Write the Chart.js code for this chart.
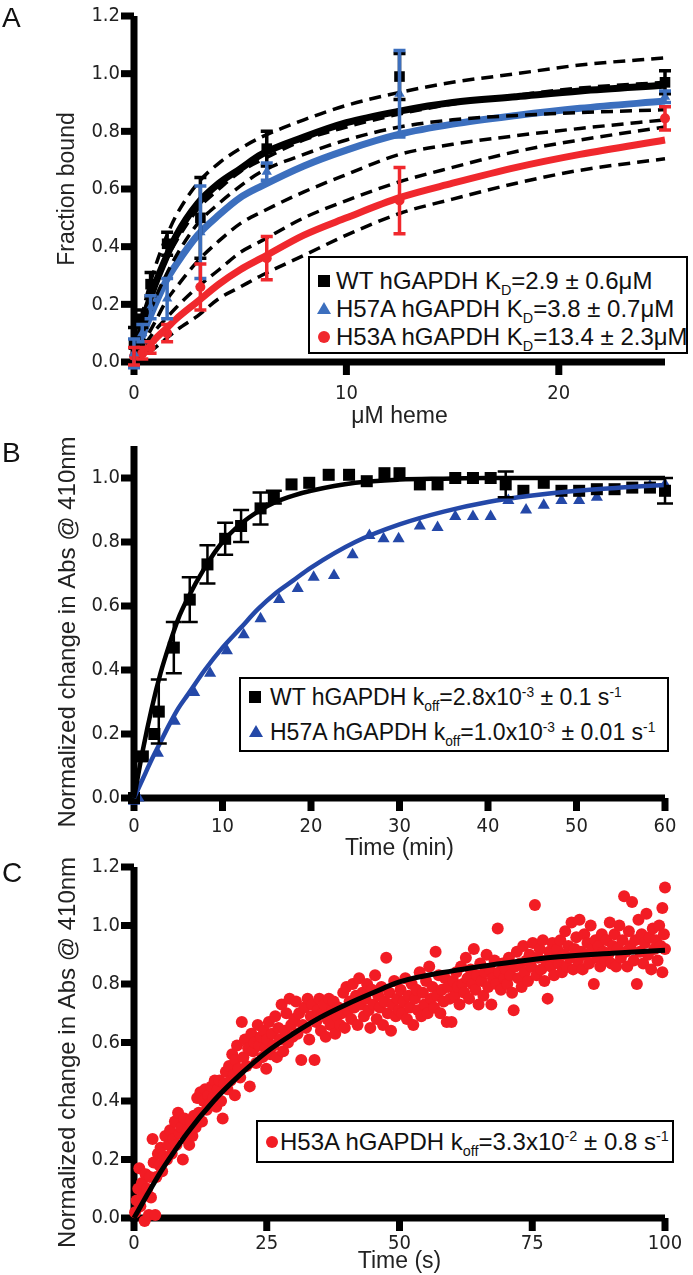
<!DOCTYPE html>
<html>
<head>
<meta charset="utf-8">
<script src="https://cdn.jsdelivr.net/npm/chart.js@4.4.1/dist/chart.umd.min.js"></script>
<style>
  html, body { margin: 0; padding: 0; background: #fff; }
  #page { position: relative; width: 693px; height: 1275px; overflow: hidden; }
  canvas { position: absolute; left: 0; }
  .letter { position: absolute; left: 2px; font: 28px 'Liberation Sans', Arial, sans-serif; line-height: 28px; color: #111; }
  .legend { position: absolute; border: 2px solid #000; box-sizing: border-box; background: #fff;
            font-family: 'Liberation Sans', Arial, sans-serif; color: #111; }
  .row { position: absolute; white-space: nowrap; line-height: 28px; height: 28px; }
  .mk { position: absolute; }
  .sq { width: 12px; height: 12px; background: #000; }
  .tri { width: 0; height: 0; border-left: 7px solid transparent; border-right: 7px solid transparent; }
  .dot { width: 12px; height: 12px; border-radius: 50%; }
  sub, sup { font-size: 0.6em; line-height: 0; }
  sub { vertical-align: -0.4em; }
  sup { vertical-align: 0.6em; }
</style>
</head>
<body>
<div id="page">
  <canvas id="chartA" width="693" height="430" style="top:0px"></canvas>
  <canvas id="chartB" width="693" height="437" style="top:425px"></canvas>
  <canvas id="chartC" width="693" height="425" style="top:850px"></canvas>

  <div class="letter" style="top:4px">A</div>
  <div class="letter" style="top:439px">B</div>
  <div class="letter" style="top:859px">C</div>

  <div class="legend" style="left:308px; top:256px; width:380px; height:98px; font-size:24px">
    <div class="row" style="left:0; top:9px">
      <div class="mk sq" style="left:8px; top:8px"></div>
      <span style="position:absolute; left:26px">WT hGAPDH K<sub>D</sub>=2.9 ± 0.6μM</span>
    </div>
    <div class="row" style="left:0; top:37px">
      <div class="mk tri" style="left:7px; top:7px; border-bottom:12px solid #3c6fbe"></div>
      <span style="position:absolute; left:26px">H57A hGAPDH K<sub>D</sub>=3.8 ± 0.7μM</span>
    </div>
    <div class="row" style="left:0; top:65px">
      <div class="mk dot" style="left:8px; top:8px; background:#f0282d"></div>
      <span style="position:absolute; left:26px">H53A hGAPDH K<sub>D</sub>=13.4 ± 2.3μM</span>
    </div>
  </div>

  <div class="legend" style="left:239px; top:677px; width:430px; height:75px; font-size:23px">
    <div class="row" style="left:0; top:4px">
      <div class="mk sq" style="left:8px; top:8px"></div>
      <span style="position:absolute; left:29px">WT hGAPDH k<sub>off</sub>=2.8x10<sup>-3</sup> ± 0.1 s<sup>-1</sup></span>
    </div>
    <div class="row" style="left:0; top:39px">
      <div class="mk tri" style="left:8px; top:7px; border-bottom:12px solid #2448a8"></div>
      <span style="position:absolute; left:29px">H57A hGAPDH k<sub>off</sub>=1.0x10<sup>-3</sup> ± 0.01 s<sup>-1</sup></span>
    </div>
  </div>

  <div class="legend" style="left:256px; top:1120px; width:418px; height:43px; font-size:24px">
    <div class="row" style="left:0; top:6px">
      <div class="mk dot" style="left:8px; top:8px; background:#f21c24"></div>
      <span style="position:absolute; left:22px">H53A hGAPDH k<sub>off</sub>=3.3x10<sup>-2</sup> ± 0.8 s<sup>-1</sup></span>
    </div>
  </div>
</div>

<script>
// ---------- Panel A: heme titration ----------
const aConc = [0, 0.39, 0.78, 1.56, 3.125, 6.25, 12.5, 25];
const aWT = [0.06, 0.15, 0.27, 0.41, 0.50, 0.74, 0.99, 0.97];
const aWTErr = [0.06, 0.03, 0.04, 0.04, 0.14, 0.06, 0.08, 0.04];
const aH57A = [0.03, 0.10, 0.19, 0.22, 0.45, 0.66, 0.93, 0.92];
const aH57AErr = [0.05, 0.03, 0.04, 0.07, 0.16, 0.03, 0.15, 0.02];
const aH53A = [0.02, 0.03, 0.05, 0.10, 0.26, 0.36, 0.56, 0.845];
const aH53AErr = [0.03, 0.02, 0.02, 0.03, 0.08, 0.075, 0.115, 0.04];

// fitted curves and confidence bands
const aFitX = [0, 0.5, 1, 1.5, 2, 3, 4, 5, 6, 8, 10, 12.5, 15, 18, 21, 25];
const aWTFit = [0, 0.16, 0.27, 0.36, 0.44, 0.55, 0.62, 0.67, 0.72, 0.78, 0.83, 0.87, 0.90, 0.92, 0.94, 0.96];
const aWTHi = [0.02, 0.20, 0.33, 0.43, 0.51, 0.62, 0.69, 0.74, 0.78, 0.84, 0.89, 0.935, 0.97, 1.0, 1.03, 1.055];
const aWTLo = [-0.02, 0.12, 0.22, 0.30, 0.37, 0.48, 0.55, 0.61, 0.66, 0.72, 0.77, 0.815, 0.84, 0.855, 0.865, 0.875];
const aH57AFit = [0, 0.11, 0.20, 0.28, 0.34, 0.44, 0.51, 0.57, 0.61, 0.68, 0.735, 0.79, 0.825, 0.855, 0.88, 0.905];
const aH57AHi = [0.02, 0.15, 0.26, 0.35, 0.42, 0.53, 0.60, 0.66, 0.70, 0.77, 0.815, 0.86, 0.895, 0.925, 0.95, 0.97];
const aH57ALo = [-0.02, 0.07, 0.14, 0.21, 0.26, 0.35, 0.42, 0.48, 0.52, 0.59, 0.65, 0.72, 0.755, 0.785, 0.81, 0.84];
const aH53AFit = [0, 0.04, 0.08, 0.115, 0.15, 0.21, 0.27, 0.32, 0.36, 0.44, 0.50, 0.57, 0.62, 0.675, 0.72, 0.77];
const aH53AHi = [0.01, 0.06, 0.11, 0.15, 0.19, 0.26, 0.32, 0.38, 0.42, 0.50, 0.56, 0.625, 0.675, 0.73, 0.77, 0.815];
const aH53ALo = [-0.01, 0.02, 0.05, 0.08, 0.11, 0.16, 0.22, 0.26, 0.30, 0.37, 0.44, 0.515, 0.565, 0.62, 0.665, 0.705];

// ---------- Panel B: koff, minutes ----------
const bWTTime = [0, 1, 2.3, 2.8, 4.5, 6.3, 8.3, 10.3, 12.1, 14.3, 15.8, 17.8, 19.8, 22.0, 24.3, 26.3, 28.3, 30.0,
  32.3, 34.3, 36.3, 38.3, 40.3, 42.0, 44.0, 46.3, 48.3, 50.3, 52.3, 54.3, 56.3, 58.3, 60.0];
const bWT = [0.0, 0.13, 0.2, 0.27, 0.47, 0.62, 0.73, 0.81, 0.85, 0.905, 0.94, 0.98, 0.985, 1.01, 1.01, 0.99, 1.015, 1.015,
  0.98, 0.98, 1.0, 1.0, 1.0, 0.98, 0.96, 0.985, 0.96, 0.96, 0.965, 0.965, 0.97, 0.97, 0.96];
const bWTErr = [0, 0, 0, 0.1, 0.08, 0.07, 0.06, 0.05, 0.05, 0.05, 0.02, 0, 0, 0, 0, 0, 0, 0,
  0, 0, 0, 0, 0, 0.04, 0, 0, 0, 0, 0, 0, 0, 0, 0.04];
const bH57ATime = [0, 0.5, 2.7, 4.6, 6.8, 8.6, 10.5, 12.4, 14.3, 16.4, 18.5, 20.3, 22.6, 24.7, 26.6, 28.2,
  29.9, 32.3, 34.3, 36.3, 38.3, 40.3, 42.3, 44.3, 46.3, 48.3, 50.3, 52.3, 54.3, 56.3, 58.3, 60];
const bH57A = [-0.01, 0.0, 0.14, 0.24, 0.33, 0.39, 0.46, 0.51, 0.56, 0.62, 0.655, 0.69, 0.695, 0.76, 0.82, 0.81,
  0.81, 0.85, 0.845, 0.88, 0.88, 0.88, 0.93, 0.9, 0.915, 0.93, 0.93, 0.94, 0.96, 0.965, 0.975, 0.98];
const bFitTime = [0, 1, 2, 3, 4, 5, 6, 8, 10, 12, 14, 16, 18, 20, 25, 30, 35, 40, 45, 50, 55, 60];
const bWTFit = [0, 0.15, 0.28, 0.39, 0.48, 0.56, 0.62, 0.72, 0.8, 0.855, 0.895, 0.925, 0.945, 0.96, 0.985, 0.995, 0.998, 1.0, 1.0, 1.0, 1.0, 1.0];
const bH57AFit = [0, 0.06, 0.12, 0.175, 0.23, 0.28, 0.32, 0.4, 0.47, 0.53, 0.59, 0.64, 0.68, 0.72, 0.8, 0.855, 0.895, 0.925, 0.945, 0.96, 0.97, 0.978];

// ---------- Panel C: H53A koff, seconds ----------
const cPoints = [
  [0.2,0.02],[0.5,0.06],[0.8,0.10],[1.0,0.17],[1.2,0.04],[1.5,0.12],[1.8,0.08],[2.0,-0.01],[2.2,0.15],[2.5,0.10],
  [2.8,0.01],[3.0,0.14],[3.2,0.07],[3.5,0.27],[3.7,0.19],[4.0,0.01],[4.2,0.14],[4.5,0.22],[4.8,0.18],[5.0,0.24],
  [5.3,0.16],[5.6,0.21],[5.9,0.28],[6.2,0.20],[6.5,0.25],[6.8,0.30],[7.1,0.22],[7.4,0.27],[7.7,0.33],[8.0,0.25],
  [8.3,0.36],[8.6,0.29],[8.9,0.31],[9.2,0.20],[9.5,0.34],[9.8,0.27],
  [10.1,0.30],[10.4,0.25],[10.7,0.33],[11.0,0.28],[11.3,0.35],[11.6,0.31],[11.9,0.41],[12.2,0.36],[12.5,0.43],[12.8,0.33],
  [13.1,0.40],[13.4,0.44],[13.7,0.37],[14.0,0.42],[14.3,0.39],[14.6,0.45],[14.9,0.41],[15.2,0.47],[15.5,0.38],[15.8,0.44],
  [16.1,0.47],[16.4,0.40],[16.7,0.34],[17.0,0.46],[17.3,0.50],[17.6,0.44],[17.9,0.52],[18.2,0.47],[18.5,0.56],[18.8,0.49],
  [19.0,0.42],[19.1,0.54],[19.4,0.59],[19.7,0.51],[20.0,0.48],[20.3,0.67],
  [20.6,0.55],[20.9,0.61],[21.2,0.52],[21.5,0.58],[21.8,0.45],[22.1,0.63],[22.4,0.57],[22.7,0.60],[23.0,0.53],[23.3,0.66],
  [23.6,0.59],[23.9,0.62],[24.2,0.55],[24.5,0.64],[24.8,0.58],[24.9,0.51],[25.1,0.61],[25.4,0.67],[25.7,0.56],[26.0,0.63],
  [26.3,0.59],[26.6,0.69],[26.9,0.55],[27.2,0.65],[27.5,0.61],[27.8,0.73],[28.1,0.57],[28.4,0.64],[28.7,0.70],[29.0,0.60],
  [29.3,0.75],[29.6,0.66],[29.9,0.62],
  [30.2,0.68],[30.5,0.74],[30.8,0.63],[31.1,0.70],[31.5,0.54],[31.8,0.66],[32.1,0.72],[32.4,0.65],[32.7,0.75],[33.0,0.61],
  [33.3,0.69],[33.6,0.73],[34.0,0.54],[34.3,0.67],[34.6,0.71],[34.9,0.75],[35.2,0.64],[35.5,0.70],[35.8,0.73],[36.1,0.62],
  [36.4,0.68],[36.7,0.75],[37.0,0.66],[37.3,0.71],[37.6,0.74],[37.9,0.63],[38.2,0.69],[38.5,0.72],[38.8,0.66],[39.1,0.70],
  [39.4,0.77],[39.7,0.65],
  [40.0,0.79],[40.3,0.71],[40.6,0.74],[40.9,0.68],[41.2,0.80],[41.5,0.72],[41.8,0.76],[42.1,0.66],[42.4,0.82],[42.7,0.73],
  [43.0,0.77],[43.3,0.69],[43.6,0.75],[43.9,0.80],[44.2,0.71],[44.5,0.65],[44.8,0.78],[45.1,0.73],[45.4,0.83],[45.7,0.68],
  [46.0,0.76],[46.3,0.72],[46.6,0.79],[46.9,0.66],[47.2,0.74],[47.5,0.89],[47.8,0.70],[48.1,0.77],[48.4,0.64],[48.7,0.73],
  [49.0,0.81],[49.3,0.69],[49.6,0.75],[49.9,0.71],
  [50.2,0.78],[50.5,0.70],[50.8,0.74],[51.1,0.82],[51.4,0.68],[51.7,0.76],[52.0,0.72],[52.3,0.80],[52.6,0.66],[52.9,0.75],
  [53.2,0.78],[53.5,0.71],[53.8,0.84],[54.1,0.69],[54.4,0.77],[54.7,0.73],[55.0,0.81],[55.3,0.70],[55.6,0.86],[55.9,0.75],
  [56.2,0.79],[56.5,0.72],[56.8,0.91],[57.1,0.76],[57.4,0.83],[57.7,0.70],[58.0,0.78],[58.3,0.74],[58.6,0.82],[58.9,0.67],
  [59.2,0.79],[59.5,0.75],[59.8,0.67],
  [60.1,0.81],[60.4,0.76],[60.7,0.84],[61.0,0.79],[61.3,0.73],[61.6,0.86],[61.9,0.80],[62.2,0.77],[62.5,0.89],[62.8,0.82],
  [63.1,0.75],[63.4,0.85],[63.7,0.80],[64.0,0.92],[64.3,0.78],[64.6,0.83],[64.9,0.73],[65.2,0.87],[65.5,0.81],[65.8,0.76],
  [66.1,0.84],[66.4,0.90],[66.7,0.79],[67.0,0.85],[67.3,0.73],[67.6,0.82],[67.9,0.88],[68.2,0.80],[68.5,0.99],[68.8,0.84],
  [69.1,0.78],[69.4,0.87],[69.7,0.82],
  [70.0,0.85],[70.3,0.80],[70.6,0.89],[70.9,0.83],[71.2,0.77],[71.5,0.71],[71.8,0.86],[72.1,0.91],[72.4,0.82],[72.7,0.87],
  [73.0,0.79],[73.3,0.93],[73.6,0.84],[73.9,0.88],[74.2,0.81],[74.5,0.90],[74.8,0.86],[75.1,0.94],[75.5,1.07],[75.8,0.83],
  [76.1,0.89],[76.4,0.92],[76.7,0.85],[77.0,0.95],[77.3,0.81],[77.6,0.88],[77.9,0.75],[78.2,0.91],[78.5,0.86],[78.8,0.94],
  [79.1,0.83],[79.4,0.89],[79.7,0.92],
  [80.0,0.87],[80.3,0.95],[80.6,0.84],[80.9,0.90],[81.2,0.98],[81.5,0.86],[81.8,0.93],[82.1,0.89],[82.4,1.01],[82.7,0.85],
  [83.0,0.92],[83.3,0.96],[83.6,0.88],[83.9,1.02],[84.2,0.91],[84.5,0.85],[84.8,0.97],[85.1,0.90],[85.4,0.94],[85.7,0.87],
  [86.0,1.00],[86.3,0.92],[86.6,0.80],[86.9,0.95],[87.2,0.89],[87.5,0.93],[87.8,0.86],[88.1,0.97],[88.4,0.91],[88.7,0.88],
  [89.0,0.95],[89.3,0.90],[89.6,1.01],[89.9,0.87],
  [90.2,0.93],[90.5,0.97],[90.8,0.86],[91.1,0.92],[91.4,1.00],[91.7,0.89],[92.0,0.95],[92.3,1.10],[92.6,0.91],[92.9,0.86],
  [93.2,0.98],[93.5,0.93],[93.8,1.08],[94.1,0.88],[94.4,0.95],[94.7,0.80],[95.0,1.02],[95.3,0.91],[95.6,0.97],[95.9,0.87],
  [96.2,0.94],[96.5,1.04],[96.8,0.90],[97.1,0.96],[97.4,0.85],[97.7,0.99],[98.0,0.92],[98.3,0.95],[98.6,0.88],[98.9,1.00],
  [99.2,0.93],[99.5,0.84],[99.5,1.06],[99.8,0.97],[100,1.13],[100,0.92]
];
const cFitTime = [0, 2.5, 5, 7.5, 10, 15, 20, 25, 30, 35, 40, 45, 50, 60, 70, 80, 90, 100];
const cFit = [0, 0.08, 0.157, 0.225, 0.29, 0.4, 0.49, 0.568, 0.63, 0.685, 0.73, 0.77, 0.807, 0.845, 0.872, 0.893, 0.905, 0.915];

// colours
const BLUE_A = '#3c6fbe';
const BLUE_B = '#2448a8';
const RED = '#f0282d';
const RED_C = '#f21c24';

const TICK_FONT = { family: "'Liberation Sans Narrow', 'DejaVu Sans Condensed', sans-serif", size: 20 };
const TITLE_FAMILY = "'Liberation Sans', Arial, sans-serif";
const AXIS_W = 7;
const TICK_LEN = 13;
// trailing spaces nudge the rotated title down so it sits where the original does
const ABS_TITLE = 'Normalized change in Abs @ 410nm   ';

function pts(xs, ys) {
  return xs.map((x, i) => ({ x: x, y: ys[i] }));
}

// heavy black axis bars and tick marks, placed with the chart's own scales
const heavyAxes = {
  id: 'heavyAxes',
  beforeDatasetsDraw(chart) {
    const { ctx, chartArea: a, scales } = chart;
    const h = AXIS_W / 2;
    ctx.save();
    ctx.fillStyle = '#000';
    ctx.fillRect(a.left - h, a.top, AXIS_W, a.bottom - a.top + h);
    ctx.fillRect(a.left - h, a.bottom - h, a.right - a.left + h, AXIS_W);
    scales.x.ticks.forEach((t) => {
      const px = scales.x.getPixelForValue(t.value);
      ctx.fillRect(px - h, a.bottom, AXIS_W, TICK_LEN);
    });
    scales.y.ticks.forEach((t) => {
      const py = scales.y.getPixelForValue(t.value);
      ctx.fillRect(a.left - TICK_LEN, py - h, TICK_LEN, AXIS_W);
    });
    ctx.restore();
  }
};

// vertical error bars with caps
const errorBars = {
  id: 'errorBars',
  afterDatasetsDraw(chart) {
    const { ctx, scales } = chart;
    chart.data.datasets.forEach((ds) => {
      if (!ds.errors) return;
      ctx.save();
      ctx.strokeStyle = ds.borderColor;
      ctx.lineWidth = ds.errorWidth || 3;
      const cap = ds.capWidth || 6;
      ds.data.forEach((p, j) => {
        const e = ds.errors[j];
        if (!e) return;
        const px = scales.x.getPixelForValue(p.x);
        const top = scales.y.getPixelForValue(p.y + e);
        const bot = scales.y.getPixelForValue(p.y - e);
        ctx.beginPath();
        ctx.moveTo(px, top); ctx.lineTo(px, bot);
        ctx.moveTo(px - cap, top); ctx.lineTo(px + cap, top);
        ctx.moveTo(px - cap, bot); ctx.lineTo(px + cap, bot);
        ctx.stroke();
      });
      ctx.restore();
    });
  }
};

function xAxis(min, max, step, title, height, pad) {
  return {
    type: 'linear', min: min, max: max,
    border: { display: false },
    grid: { drawOnChartArea: false, tickLength: 10, tickColor: 'rgba(0,0,0,0)' },
    ticks: { stepSize: step, includeBounds: false, color: '#222', font: TICK_FONT, padding: pad, maxRotation: 0 },
    title: { display: true, text: title, color: '#222', font: { family: TITLE_FAMILY, size: 23 },
             padding: { top: 0, bottom: 0 } },
    afterFit(s) { s.height = height; }
  };
}

function yAxis(max, title, size) {
  return {
    type: 'linear', min: 0, max: max,
    border: { display: false },
    grid: { drawOnChartArea: false, tickLength: 10, tickColor: 'rgba(0,0,0,0)' },
    ticks: { stepSize: 0.2, includeBounds: false, color: '#222', font: TICK_FONT, padding: 4,
             callback: (v) => v.toFixed(1) },
    title: { display: true, text: title, color: '#222', font: { family: TITLE_FAMILY, size: size },
             padding: { top: 54, bottom: 0 } },
    afterFit(s) { s.width = 134; }
  };
}

function fitLine(xs, ys, color, width, order) {
  return { type: 'line', data: pts(xs, ys), borderColor: color, borderWidth: width, pointRadius: 0,
           cubicInterpolationMode: 'monotone', fill: false, order: order, clip: false };
}

function bandLine(xs, ys) {
  return { type: 'line', data: pts(xs, ys), borderColor: '#000', borderWidth: 3.5, borderDash: [12, 7],
           pointRadius: 0, cubicInterpolationMode: 'monotone', fill: false, order: 2, clip: false };
}

function marks(xs, ys, errs, color, style, radius, order, errWidth, cap) {
  return { type: 'scatter', data: pts(xs, ys), errors: errs, errorWidth: errWidth, capWidth: cap,
           backgroundColor: color, borderColor: color, borderWidth: 0, pointStyle: style,
           pointRadius: radius, order: order, clip: false };
}

function baseOptions(top, xScale, yScale) {
  return {
    responsive: false, animation: false, devicePixelRatio: 1,
    layout: { padding: { top: top, right: 28, left: 0, bottom: 0 } },
    plugins: { legend: { display: false }, tooltip: { enabled: false } },
    scales: { x: xScale, y: yScale }
  };
}

// Panel A
new Chart(document.getElementById('chartA'), {
  type: 'scatter',
  data: {
    datasets: [
      marks(aConc, aWT, aWTErr, '#000', 'rect', 7.5, 0, 3.5, 6),
      marks(aConc, aH57A, aH57AErr, BLUE_A, 'triangle', 6, 0, 3.5, 6),
      marks(aConc, aH53A, aH53AErr, RED, 'circle', 5, 0, 3.5, 6),
      bandLine(aFitX, aWTHi), bandLine(aFitX, aWTLo),
      bandLine(aFitX, aH57AHi), bandLine(aFitX, aH57ALo),
      bandLine(aFitX, aH53AHi), bandLine(aFitX, aH53ALo),
      fitLine(aFitX, aWTFit, '#000', 7, 3),
      fitLine(aFitX, aH57AFit, BLUE_A, 7, 3),
      fitLine(aFitX, aH53AFit, RED, 7, 3)
    ]
  },
  options: baseOptions(10, xAxis(0, 25, 10, 'μM heme', 68, 10), yAxis(1.2, 'Fraction bound', 23)),
  plugins: [heavyAxes, errorBars]
});

// Panel B
new Chart(document.getElementById('chartB'), {
  type: 'scatter',
  data: {
    datasets: [
      marks(bWTTime, bWT, bWTErr, '#000', 'rect', 8.5, 1, 2.5, 8),
      marks(bH57ATime, bH57A, null, BLUE_B, 'triangle', 7, 1, 2.5, 8),
      fitLine(bFitTime, bWTFit, '#000', 4.5, 0),
      fitLine(bFitTime, bH57AFit, BLUE_B, 4.5, 0)
    ]
  },
  options: baseOptions(21, xAxis(0, 60, 10, 'Time (min)', 64, 7), yAxis(1.1, ABS_TITLE, 24)),
  plugins: [heavyAxes, errorBars]
});

// Panel C
new Chart(document.getElementById('chartC'), {
  type: 'scatter',
  data: {
    datasets: [
      { type: 'scatter', data: cPoints.map((p) => ({ x: p[0], y: p[1] })), backgroundColor: RED_C,
        borderWidth: 0, pointRadius: 6, order: 1, clip: false },
      fitLine(cFitTime, cFit, '#000', 5, 0)
    ]
  },
  options: baseOptions(17, xAxis(0, 100, 25, 'Time (s)', 57, 4), yAxis(1.2, ABS_TITLE, 24)),
  plugins: [heavyAxes, errorBars]
});
</script>
</body>
</html>
